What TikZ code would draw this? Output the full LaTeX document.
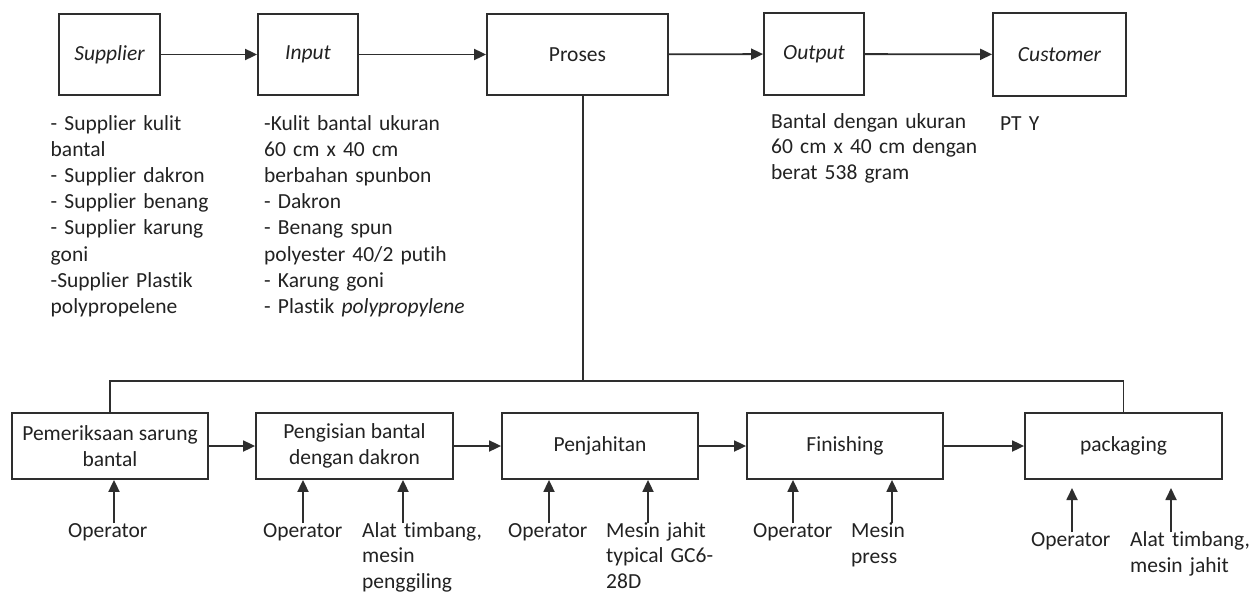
\documentclass[tikz,border=0pt]{standalone}
\usepackage{fontspec}
\setmainfont{Carlito}[Ligatures=NoCommon]
\usetikzlibrary{arrows.meta,calc}
\definecolor{ln}{HTML}{2E2E2E}
\definecolor{tx}{HTML}{222222}
\tikzset{
  boxnode/.style={draw=ln, line width=1.8pt, inner sep=2pt, align=center, text=tx,
    font=\fontsize{21.5}{26.2}\selectfont},
  conn/.style={draw=ln, line width=1.8pt},
  arr/.style={conn, -{Triangle[length=12pt,width=11pt]}},
  lbl/.style={anchor=base west, inner sep=0pt, text width=260pt, align=left, text=tx,
    font=\fontsize{21.5}{26.2}\selectfont},
}
\begin{document}
\begin{tikzpicture}[x=1pt,y=-1pt]
\useasboundingbox[fill=white] (0,0) rectangle (1250,594);
% top row
\node[boxnode, minimum width=101pt, minimum height=81pt] (sup) at (109.5,54.5) {\itshape Supplier};
\node[boxnode, minimum width=100pt, minimum height=81pt] (inp) at (308,54.5) {\itshape Input};
\node[boxnode, minimum width=181pt, minimum height=81pt] (pro) at (577.5,54.5) {Proses};
\node[boxnode, minimum width=100pt, minimum height=82pt] (out) at (814,54) {\itshape Output};
\node[boxnode, minimum width=133pt, minimum height=83pt] (cus) at (1059.5,54.5) {\itshape Customer};
\draw[arr] (sup) -- (inp);
\draw[arr] (inp) -- (pro);
\draw[arr] (pro) -- (out);
\draw[arr] (out) -- (cus);
% descriptions
\node[lbl] (tsup) at (50.5,130) {- Supplier kulit\\bantal\\- Supplier dakron\\- Supplier benang\\- Supplier karung\\goni\\-Supplier Plastik\\polypropelene};
\node[lbl] (tinp) at (264,130) {-Kulit bantal ukuran\\60 cm x 40 cm\\berbahan spunbon\\- Dakron\\- Benang spun\\polyester 40/2 putih\\- Karung goni\\- Plastik \textit{polypropylene}};
\node[lbl, font=\fontsize{21.5}{25.8}\selectfont] (tout) at (771,128) {Bantal dengan ukuran\\60 cm x 40 cm dengan\\berat 538 gram};
\node[lbl] (tcus) at (1000,130) {PT Y};
% process steps
\node[boxnode, minimum width=196pt, minimum height=66pt] (b1) at (110,446) {Pemeriksaan sarung\\bantal};
\node[boxnode, minimum width=197pt, minimum height=66pt] (b2) at (354.5,446) {Pengisian bantal\\dengan dakron};
\node[boxnode, minimum width=196pt, minimum height=66pt] (b3) at (600,446) {Penjahitan};
\node[boxnode, minimum width=196pt, minimum height=66pt] (b4) at (845,446) {Finishing};
\node[boxnode, minimum width=197pt, minimum height=66pt] (b5) at (1123.5,446) {packaging};
\draw[arr] (b1) -- (b2);
\draw[arr] (b2) -- (b3);
\draw[arr] (b3) -- (b4);
\draw[arr] (b4) -- (b5);
% tree connector
\coordinate (pv) at ($(pro.south)+(5.5,0)$);
\coordinate (bus) at (583,381);
\draw[conn] (pv) -- (bus);
\draw[conn] (b1.north) |- (bus) -| (b5.north);
% resource arrows
\coordinate (r1) at (114,523);
\coordinate (r2a) at (303,523);
\coordinate (r2b) at (403,523);
\coordinate (r3a) at (549,523);
\coordinate (r3b) at (648,523);
\coordinate (r4a) at (793,523);
\coordinate (r4b) at (892,523);
\coordinate (r5a) at (1072,532);
\coordinate (r5b) at (1171,532);
\coordinate (t5a) at (1072,488);
\coordinate (t5b) at (1171,488);
\draw[arr] (r1) -- (r1 |- b1.south);
\draw[arr] (r2a) -- (r2a |- b2.south);
\draw[arr] (r2b) -- (r2b |- b2.south);
\draw[arr] (r3a) -- (r3a |- b3.south);
\draw[arr] (r3b) -- (r3b |- b3.south);
\draw[arr] (r4a) -- (r4a |- b4.south);
\draw[arr] (r4b) -- (r4b |- b4.south);
\draw[arr] (r5a) -- (t5a);
\draw[arr] (r5b) -- (t5b);
% resource labels
\node[lbl] (o1) at (68,537) {Operator};
\node[lbl] (o2) at (263,537) {Operator};
\node[lbl, font=\fontsize{21.5}{25.8}\selectfont] (m2) at (362,537) {Alat timbang,\\mesin\\penggiling};
\node[lbl] (o3) at (508,537) {Operator};
\node[lbl, font=\fontsize{21.5}{25.8}\selectfont] (m3) at (606,537) {Mesin jahit\\typical GC6-\\28D};
\node[lbl] (o4) at (753,537) {Operator};
\node[lbl] (m4) at (851,537) {Mesin\\press};
\node[lbl] (o5) at (1031,546) {Operator};
\node[lbl] (m5) at (1130,546) {Alat timbang,\\mesin jahit};
\end{tikzpicture}
\end{document}
